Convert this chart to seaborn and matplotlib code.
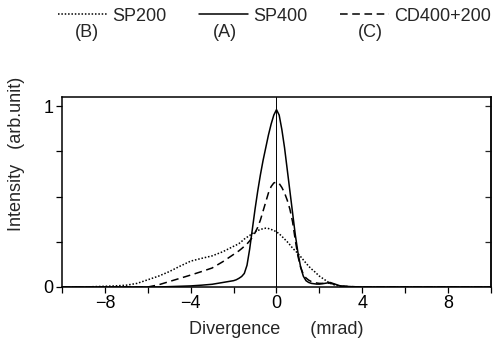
import seaborn as sns
import matplotlib.pyplot as plt
import numpy as np
from matplotlib.ticker import MultipleLocator

# divergence (mrad) and the three beam profiles
divergence = [-10, -9, -8.5, -8, -7.5, -7, -6.5, -6, -5.5, -5, -4.5, -4, -3.5, -3, -2.5,
              -2, -1.875, -1.75, -1.625, -1.5, -1.375, -1.25, -1.125, -1, -0.875, -0.75, -0.625,
              -0.5, -0.375, -0.25, -0.125, 0, 0.125, 0.25, 0.375, 0.5, 0.625, 0.75, 0.875,
              1, 1.125, 1.25, 1.375, 1.5, 1.625, 1.75, 1.875, 2,
              2.25, 2.5, 2.75, 3, 3.5, 4, 5, 10]
sp200 = [0, 0, 0.002, 0.004, 0.006, 0.01, 0.02, 0.04, 0.06, 0.085, 0.115, 0.143, 0.158, 0.172, 0.195,
         0.225, 0.232, 0.24, 0.252, 0.265, 0.275, 0.285, 0.295, 0.305, 0.312, 0.318, 0.322,
         0.325, 0.323, 0.318, 0.312, 0.305, 0.294, 0.28, 0.265, 0.25, 0.233, 0.215, 0.2,
         0.185, 0.168, 0.15, 0.132, 0.115, 0.1, 0.088, 0.074, 0.06,
         0.04, 0.02, 0.01, 0.004, 0.001, 0, 0, 0]
sp400 = [0, 0, 0, 0, 0, 0, 0, 0, 0, 0.002, 0.004, 0.006, 0.01, 0.015, 0.025,
         0.035, 0.04, 0.048, 0.058, 0.075, 0.12, 0.21, 0.32, 0.43, 0.53, 0.62, 0.7,
         0.77, 0.84, 0.9, 0.95, 0.98, 0.95, 0.87, 0.77, 0.65, 0.53, 0.41, 0.29,
         0.19, 0.11, 0.06, 0.035, 0.025, 0.02, 0.018, 0.016, 0.016,
         0.02, 0.025, 0.015, 0.005, 0.002, 0, 0, 0]
cd400_200 = [0, 0, 0, 0, 0, 0, 0, 0, 0.012, 0.03, 0.048, 0.066, 0.085, 0.105, 0.14,
             0.18, 0.19, 0.2, 0.212, 0.225, 0.238, 0.255, 0.275, 0.3, 0.33, 0.37, 0.42,
             0.47, 0.52, 0.555, 0.575, 0.58, 0.572, 0.55, 0.52, 0.48, 0.43, 0.36, 0.26,
             0.17, 0.11, 0.07, 0.05, 0.038, 0.03, 0.025, 0.022, 0.02,
             0.02, 0.022, 0.012, 0.005, 0.002, 0, 0, 0]

sns.set_style("ticks")
plt.rcParams['font.family'] = ['Liberation Sans', 'DejaVu Sans']

fig = plt.figure(figsize=(4.94, 3.39), dpi=100)
ax = fig.add_axes([0.1255, 0.1534, 0.8684, 0.5605])

sns.lineplot(x=divergence, y=sp200, ax=ax, color='black', lw=1.1,
             linestyle=(0, (1, 1.2)), label='SP200')
sns.lineplot(x=divergence, y=sp400, ax=ax, color='black', lw=1.1,
             linestyle='-', label='SP400')
sns.lineplot(x=divergence, y=cd400_200, ax=ax, color='black', lw=1.1,
             linestyle=(0, (5, 3)), label='CD400+200')
ax.axvline(0, color='black', lw=0.7)

ax.set_xlim(-10, 10)
ax.set_ylim(0, 1.05)
ax.set_xticks([-8, -4, 0, 4, 8])
ax.set_xticklabels(['\u22128', '\u22124', '0', '4', '8'])
ax.xaxis.set_minor_locator(MultipleLocator(2))
ax.set_yticks([0, 1])
ax.yaxis.set_minor_locator(MultipleLocator(0.25))
ax.tick_params(which='both', direction='out', length=4, width=0.9,
               labelsize=13, colors='black', pad=2)
for s in ax.spines.values():
    s.set_linewidth(1.1)
    s.set_color('black')

# inward ticks on the right spine
sec = ax.secondary_yaxis('right')
sec.set_yticks([0.25, 0.5, 0.75, 1])
sec.tick_params(direction='in', length=4, width=0.9, labelright=False)
sec.spines['right'].set_linewidth(1.1)

ax.set_xlabel('Divergence      (mrad)', fontsize=13, labelpad=6)
ax.set_ylabel('Intensity   (arb.unit)', fontsize=13)
ax.yaxis.set_label_coords(-0.086, 0.70)

handles, labels = ax.get_legend_handles_labels()
ax.get_legend().remove()
fig.legend(handles, labels, loc='upper left', bbox_to_anchor=(0.0846, 1.025),
           ncol=3, frameon=False, fontsize=13, handlelength=2.7,
           handletextpad=0.3, columnspacing=1.8)
fig.text(0.176, 0.903, '(B)', fontsize=13, ha='center', va='center')
fig.text(0.455, 0.903, '(A)', fontsize=13, ha='center', va='center')
fig.text(0.749, 0.903, '(C)', fontsize=13, ha='center', va='center')

fig.savefig('out.png', dpi=100)
